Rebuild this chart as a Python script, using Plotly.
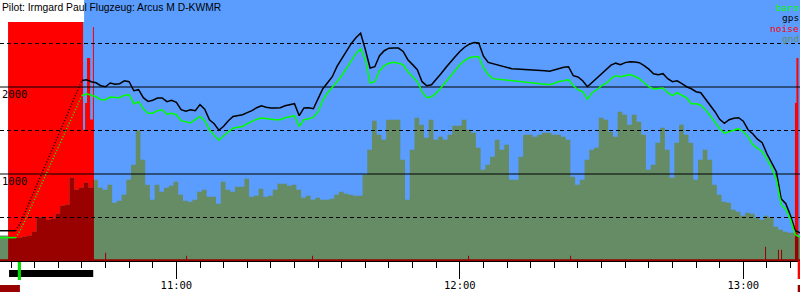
import numpy as np
import pandas as pd
import plotly.graph_objects as go

DAY = "2021-06-12 "

# ---------------- data ----------------
title_text = "Pilot: Irmgard Paul Flugzeug: Arcus M D-KWMR"

# altitude lines, one sample per minute 10:22 .. 13:12 (m)
line_start, line_end = "10:22:00", "13:12:00"
gps_alt = [
    348, 348, 348, 348, 348,
    439, 564, 690, 815, 943, 1068, 1193, 1321, 1446, 1572, 1697, 1824, 1949, 2075,
    2084, 2061, 2049, 2015, 2003, 2046, 2032, 2038, 2072, 2061,
    1957, 1969, 1877, 1835, 1848, 1874, 1874, 1831, 1848, 1825,
    1739, 1722, 1739, 1727, 1797, 1745, 1624, 1578, 1503, 1549,
    1613, 1662, 1670, 1682, 1705, 1728, 1762, 1785, 1768, 1759,
    1759, 1762, 1785, 1797, 1808, 1670, 1759, 1762, 1750, 1866,
    1980, 2049, 2118, 2237, 2325, 2417, 2498, 2567, 2618, 2430,
    2218, 2233, 2360, 2417, 2446, 2448, 2448, 2409, 2314, 2257,
    2199, 2061, 2015, 2026, 2084, 2153, 2222, 2291, 2348, 2409,
    2457, 2492, 2512, 2506, 2354, 2283, 2268, 2251, 2239, 2222,
    2211, 2207, 2205, 2199, 2199, 2193, 2191, 2187, 2182, 2199,
    2216, 2228, 2233, 2130, 2115, 2072, 2003, 2055, 2095, 2147,
    2199, 2251, 2274, 2257, 2280, 2291, 2286, 2280, 2245, 2205,
    2153, 2142, 2153, 2095, 2061, 2072, 2038, 2003, 1980, 1946,
    1934, 1866, 1797, 1716, 1629, 1583, 1624, 1641, 1647, 1607,
    1509, 1463, 1400, 1360, 1233, 1130, 1026, 716, 659, 521,
    348, 325,
]
baro_alt = [
    268, 268, 268, 268, 268,
    357, 472, 591, 710, 831, 949, 1068, 1190, 1308, 1426, 1545, 1667, 1785, 1903,
    1923, 1906, 1888, 1854, 1854, 1885, 1877, 1877, 1906, 1911,
    1808, 1831, 1750, 1699, 1699, 1728, 1739, 1687, 1699, 1682,
    1613, 1595, 1586, 1624, 1662, 1613, 1509, 1446, 1389, 1440,
    1486, 1526, 1538, 1547, 1578, 1607, 1630, 1644, 1636, 1624,
    1624, 1624, 1647, 1659, 1670, 1545, 1624, 1636, 1653, 1716,
    1848, 1934, 1992, 2061, 2130, 2222, 2297, 2383, 2440, 2314,
    2046, 2061, 2187, 2245, 2274, 2283, 2274, 2256, 2176, 2118,
    2061, 1946, 1877, 1888, 1929, 1992, 2061, 2118, 2199, 2256,
    2303, 2337, 2349, 2349, 2222, 2142, 2096, 2090, 2084, 2078,
    2072, 2064, 2061, 2055, 2049, 2044, 2038, 2032, 2026, 2044,
    2064, 2072, 2084, 2015, 1969, 1946, 1861, 1934, 1969, 2015,
    2044, 2096, 2130, 2118, 2130, 2142, 2124, 2096, 2049, 2003,
    1977, 1980, 1988, 1934, 1900, 1934, 1900, 1874, 1808, 1808,
    1791, 1739, 1670, 1590, 1521, 1469, 1486, 1509, 1521, 1486,
    1429, 1337, 1297, 1256, 1170, 1072, 934, 647, 595, 475,
    302, 276,
]

# ground elevation, one bin per minute starting 10:22:24 (m)
gnd_start, gnd_end = "10:22:24", "13:12:24"
gnd_alt = [
    292, 292, 279, 268, 268, 279, 291, 337, 498, 509,
    475, 486, 544, 636, 647, 957, 820, 843, 900, 843,
    934, 843, 820, 877, 670, 693, 762, 934, 1107, 1500,
    1164, 877, 705, 877, 796, 843, 866, 911, 762, 693,
    682, 705, 796, 820, 739, 739, 659, 911, 820, 796,
    854, 854, 946, 739, 751, 831, 739, 751, 820, 889,
    889, 866, 877, 820, 728, 751, 705, 728, 705, 705,
    716, 762, 796, 774, 762, 751, 751, 992, 1279, 1613,
    1452, 1394, 1624, 1624, 1624, 1164, 705, 1279, 1647, 1567,
    1417, 1624, 1394, 1429, 1394, 1452, 1555, 1555, 1624, 1509,
    1475, 1303, 1049, 1107, 1199, 1394, 1279, 1337, 934, 934,
    1199, 1452, 1452, 1429, 1452, 1475, 1475, 1452, 1452, 1429,
    1394, 969, 877, 934, 1164, 1279, 1303, 1647, 1624, 1487,
    1429, 1716, 1682, 1567, 1682, 1601, 1452, 1049, 1107, 1360,
    1532, 1279, 957, 1360, 1567, 1452, 1360, 934, 1164, 1279,
    1164, 877, 762, 682, 670, 590, 567, 521, 555, 544,
    498, 475, 521, 498, 394, 360, 337, 325, 325, 279,
    279,
]

# engine noise level (0..1000), step changes
noise_times = [
    "10:22:00", "10:24:23", "10:40:15", "10:40:40", "10:41:05", "10:41:45",
    "10:42:20", "10:42:33", "10:44:55", "10:45:08", "11:02:03", "11:02:16",
    "11:28:43", "11:28:56", "12:01:44", "12:01:57", "12:23:20", "12:23:33",
    "13:04:36", "13:04:49", "13:07:20", "13:07:33", "13:07:59", "13:08:12",
    "13:10:56", "13:11:15", "13:11:40", "13:12:00",
]
noise_level = [
    7, 916, 503, 605, 778, 542,
    897, 7, 32, 7, 20, 7,
    20, 7, 20, 7, 20, 7,
    55, 7, 43, 7, 43, 7,
    605, 778, 7, 7,
]

takeoff_time = "10:26:00"
climb_end_time = "10:40:00"

grid_solid = [1000, 2000]
grid_dashed = [500, 1500, 2500]
ytick_values = [1000, 2000]

legend_items = [("baro", "#00ff00"), ("gps", "black"), ("noise", "#ff0000"), ("gnd", "#668c66")]

# bottom event tracks: (kind, start, end)
track_events = [
    ("tow", "10:24:35", "10:42:24"),
    ("takeoff", "10:26:26", "10:27:06"),
    ("engine", "10:22:40", "10:26:53"),
    ("landing", "13:11:31", "13:12:00"),
    ("engine", "13:11:31", "13:12:00"),
]
# regions without recorded sky (page white)
blank_regions = [("10:22:40", "10:24:23", "full"), ("10:22:40", "10:40:28", "title")]

# ---------------- styling ----------------
SKY = "rgb(90,157,255)"
GND = "#668c66"
RED = "#ff0000"
DARKRED = "#990000"
MONO = "DejaVu Sans Mono"
X0 = pd.Timestamp(DAY + "10:22:40")
X1 = pd.Timestamp(DAY + "13:12:00")
Y_RANGE = [0, 3000]
NOISE_RANGE = [0, 1000]
NOISE_TO_M = (Y_RANGE[1] - Y_RANGE[0]) / (NOISE_RANGE[1] - NOISE_RANGE[0])
H, MB = 300, 39
PLOT_H = H - MB


def ppx(ypx):
    return (PLOT_H - ypx) / PLOT_H


def T(s):
    return pd.Timestamp(DAY + s)


lt = pd.date_range(T(line_start), T(line_end), freq="1min")
gt = pd.date_range(T(gnd_start), T(gnd_end), freq="1min")
nt = pd.DatetimeIndex([T(s) for s in noise_times])
gps = np.array(gps_alt, dtype=float)
baro = np.array(baro_alt, dtype=float)
gnd = np.array(gnd_alt, dtype=float)
noise_m = np.array(noise_level, dtype=float) * NOISE_TO_M


def step(tx, vy, t):
    i = np.searchsorted(tx.values, t, side="right") - 1
    return np.where(i >= 0, vy[np.clip(i, 0, None)], 0.0)


grid_t = np.union1d(gt.values, nt.values)
overlap = np.minimum(step(gt, gnd, grid_t), step(nt, noise_m, grid_t))

fig = go.Figure()
fig.add_trace(go.Scatter(x=nt, y=noise_m, mode="lines", line=dict(width=0, shape="hv"),
                         fill="tozeroy", fillcolor=RED, hoverinfo="skip"))
fig.add_trace(go.Scatter(x=gt, y=gnd, mode="lines", line=dict(width=0, shape="hv"),
                         fill="tozeroy", fillcolor=GND, hoverinfo="skip"))
fig.add_trace(go.Scatter(x=pd.DatetimeIndex(grid_t), y=overlap, mode="lines",
                         line=dict(width=0, shape="hv"), fill="tozeroy",
                         fillcolor=DARKRED, hoverinfo="skip"))

for levels, dash in ((grid_solid, "solid"), (grid_dashed, "4px,3px")):
    gx, gy = [], []
    for v in levels:
        gx += [X0, X1, None]
        gy += [v, v, None]
    fig.add_trace(go.Scatter(x=gx, y=gy, mode="lines",
                             line=dict(color="black", width=1, dash=dash), hoverinfo="skip"))

t_to = T(takeoff_time)
t_ce = T(climb_end_time)
solid_mask = (lt <= t_to) | (lt >= t_ce)
dot_mask = (lt >= t_to) & (lt <= t_ce)
for vals, col in ((gps, "black"), (baro, "#00ff00")):
    fig.add_trace(go.Scatter(x=lt, y=np.where(solid_mask, vals, np.nan), mode="lines",
                             line=dict(color=col, width=1.5), connectgaps=False,
                             hoverinfo="skip"))
    fig.add_trace(go.Scatter(x=lt, y=np.where(dot_mask, vals, np.nan), mode="lines",
                             line=dict(color=col, width=1.5, dash="1px,2px"),
                             hoverinfo="skip"))

shapes = []
for s, e, kind in blank_regions:
    y0 = 0 if kind == "full" else ppx(22)
    shapes.append(dict(type="rect", xref="x", yref="paper", x0=T(s), x1=T(e), y0=y0, y1=1,
                       fillcolor="white", line=dict(width=0), layer="below"))

track_style = {
    "tow": ("black", 270, 277),
    "takeoff": ("#00dd00", 262, 280),
    "engine": (DARKRED, 285, 292),
    "landing": (RED, 261, 279),
}
for kind, s, e in track_events:
    col, ya, yb = track_style[kind]
    shapes.append(dict(type="rect", xref="x", yref="paper", x0=T(s), x1=T(e),
                       y0=ppx(yb), y1=ppx(ya), fillcolor=col, line=dict(width=0),
                       layer="above"))

annotations = [dict(text=title_text, x=0, y=1, xref="paper", yref="paper",
                    xanchor="left", yanchor="top", showarrow=False,
                    font=dict(family="Liberation Sans", size=10.3, color="black"))]
for v in ytick_values:
    annotations.append(dict(text=str(v), x=0, y=v, xref="paper", yref="y",
                            xanchor="left", yanchor="top", showarrow=False, yshift=1,
                            font=dict(family=MONO, size=10.5, color="black")))
for i, (name, col) in enumerate(legend_items):
    annotations.append(dict(text=name, x=1, y=1, xref="paper", yref="paper",
                            xanchor="right", yanchor="top", showarrow=False,
                            yshift=-1 - 10.3 * i, borderpad=0,
                            font=dict(family=MONO, size=9.5, color=col)))

fig.update_layout(
    width=800, height=H, margin=dict(l=0, r=0, t=0, b=MB),
    paper_bgcolor="white", plot_bgcolor=SKY, showlegend=False,
    xaxis=dict(type="date", range=[X0, X1], showgrid=False, zeroline=False,
               showline=True, linecolor="black", linewidth=1,
               ticks="outside", ticklen=17, tickwidth=1, tickcolor="black",
               tick0=DAY + "10:00:00", dtick=3600000, tickformat="%H:%M",
               ticklabelstandoff=-3,
               tickfont=dict(family=MONO, size=10.5, color="black"),
               minor=dict(ticks="outside", ticklen=6, tickwidth=1, tickcolor="black",
                          tick0=DAY + "10:00:00", dtick=300000, showgrid=False)),
    yaxis=dict(range=Y_RANGE, showgrid=False, zeroline=False, showticklabels=False,
               ticks=""),
    shapes=shapes, annotations=annotations,
)

fig.write_html("out.html", config={"displayModeBar": False})
